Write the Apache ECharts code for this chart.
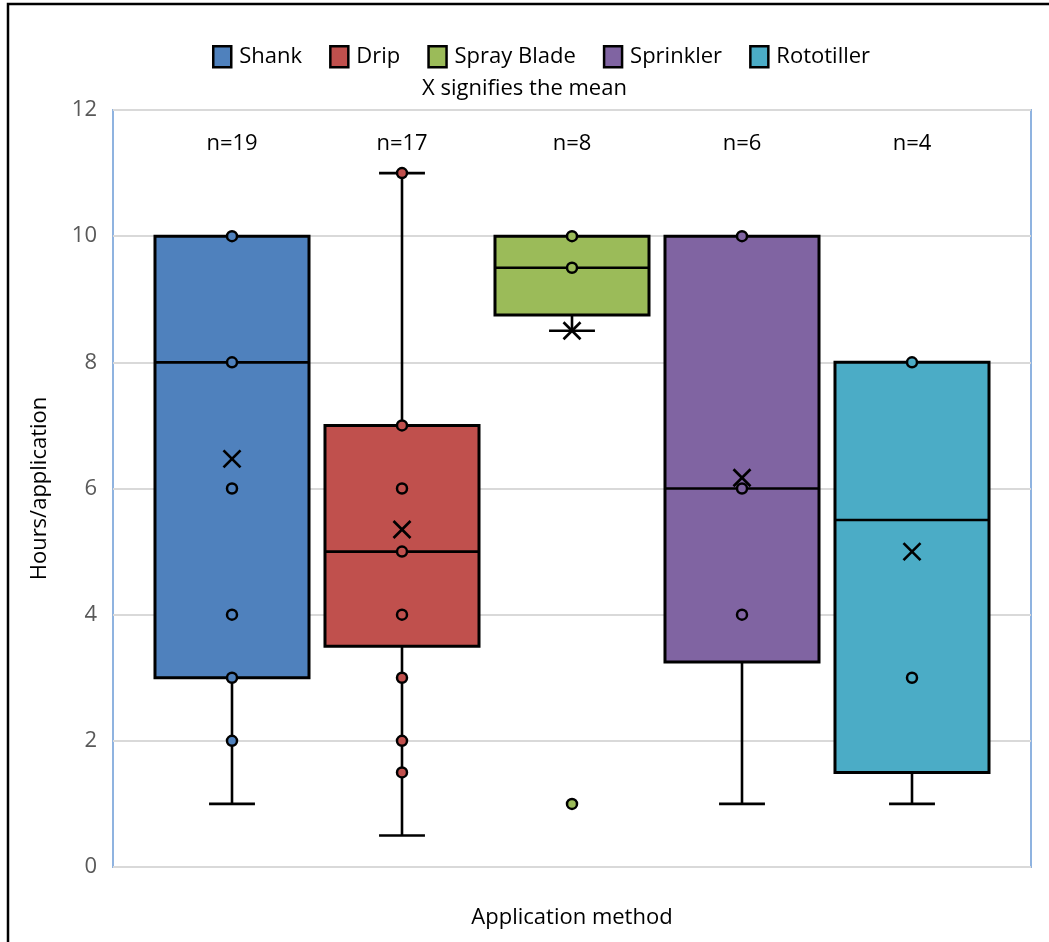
<!DOCTYPE html>
<html>
<head>
<meta charset="utf-8">
<script src="https://cdn.jsdelivr.net/npm/echarts@6/dist/echarts.min.js"></script>
<style>
  html, body { margin: 0; padding: 0; background: #fff; }
  #chart { width: 1049px; height: 942px; }
</style>
</head>
<body>
<div id="chart"></div>
<script>
// Hours per application by application method (box & whisker summary)
const categories = ['Shank', 'Drip', 'Spray Blade', 'Sprinkler', 'Rototiller'];
const counts = [19, 17, 8, 6, 4];
const whiskerLow = [1, 0.5, 8.5, 1, 1];
const quartile1 = [3, 3.5, 8.75, 3.25, 1.5];
const medians = [8, 5, 9.5, 6, 5.5];
const quartile3 = [10, 7, 10, 10, 8];
const whiskerHigh = [10, 11, 10, 10, 8];
const means = [6.47, 5.35, 8.5, 6.17, 5];
const points = [
  [10, 8, 6, 4, 3, 2],
  [11, 7, 6, 5, 4, 3, 2, 1.5],
  [10, 9.5, 1],
  [10, 6, 4],
  [8, 3]
];
const yTicks = [0, 2, 4, 6, 8, 10, 12];

const colors = ['#4f81bd', '#c0504d', '#9bbb59', '#8064a2', '#4bacc6'];
const FONT = 'Open Sans';
const FS = 22;
const BOX_W = 0.906;   // box width in category units
const CAP_W = 0.27;    // whisker cap width in category units

function renderBox(params, api) {
  const i = api.value(0);
  const lo = api.value(1), q1 = api.value(2), med = api.value(3);
  const q3 = api.value(4), hi = api.value(5), mean = api.value(6), n = api.value(7);
  const color = api.visual('color');
  const pt = v => api.coord([i, v]);
  const half = api.size([BOX_W, 0])[0] / 2;
  const capHalf = api.size([CAP_W, 0])[0] / 2;
  const cx = pt(med)[0];
  const yLo = pt(lo)[1], yQ1 = pt(q1)[1], yMed = pt(med)[1];
  const yQ3 = pt(q3)[1], yHi = pt(hi)[1], yMean = pt(mean)[1];
  const lineStyle = { stroke: '#000', lineWidth: 2.6 };
  const children = [];
  if (lo < q1) {
    children.push({ type: 'line', shape: { x1: cx, y1: yQ1, x2: cx, y2: yLo }, style: lineStyle });
    children.push({ type: 'line', shape: { x1: cx - capHalf, y1: yLo, x2: cx + capHalf, y2: yLo }, style: lineStyle });
  }
  if (hi > q3) {
    children.push({ type: 'line', shape: { x1: cx, y1: yQ3, x2: cx, y2: yHi }, style: lineStyle });
    children.push({ type: 'line', shape: { x1: cx - capHalf, y1: yHi, x2: cx + capHalf, y2: yHi }, style: lineStyle });
  }
  children.push({
    type: 'rect',
    shape: { x: cx - half, y: yQ3, width: half * 2, height: yQ1 - yQ3 },
    style: { fill: color, stroke: '#000', lineWidth: 3 }
  });
  children.push({ type: 'line', shape: { x1: cx - half, y1: yMed, x2: cx + half, y2: yMed }, style: lineStyle });
  const m = 8.5;
  children.push({ type: 'line', shape: { x1: cx - m, y1: yMean - m, x2: cx + m, y2: yMean + m }, style: lineStyle, z2: 10 });
  children.push({ type: 'line', shape: { x1: cx - m, y1: yMean + m, x2: cx + m, y2: yMean - m }, style: lineStyle, z2: 10 });
  const top = params.coordSys.y;
  children.push({
    type: 'text',
    style: { text: 'n=' + n, x: cx, y: top + 34, align: 'center', verticalAlign: 'middle',
             font: FS + 'px "' + FONT + '"', fill: '#000' }
  });
  return { type: 'group', children };
}

const series = [];
categories.forEach((name, i) => {
  series.push({
    name,
    type: 'custom',
    renderItem: renderBox,
    itemStyle: { color: colors[i] },
    encode: { x: 0, y: [1, 2, 3, 4, 5] },
    data: [[i, whiskerLow[i], quartile1[i], medians[i], quartile3[i], whiskerHigh[i], means[i], counts[i]]],
    z: 2,
    silent: true
  });
  series.push({
    name,
    type: 'scatter',
    symbol: 'circle',
    symbolSize: 10,
    itemStyle: { color: colors[i], borderColor: '#000', borderWidth: 2.5, opacity: 1 },
    data: points[i].map(v => [i, v]),
    z: 5,
    silent: true
  });
});

const chart = echarts.init(document.getElementById('chart'), null, { renderer: 'canvas' });
chart.setOption({
  backgroundColor: '#fff',
  animation: false,
  textStyle: { fontFamily: FONT },
  title: {
    text: 'X signifies the mean',
    left: 'center',
    top: 73,
    textStyle: { fontFamily: FONT, fontSize: FS, fontWeight: 'normal', color: '#000' }
  },
  legend: {
    data: categories.map(n => ({ name: n, icon: 'rect' })),
    top: 40,
    left: 207,
    itemWidth: 18,
    itemHeight: 21,
    itemGap: 27,
    itemStyle: { borderColor: '#000', borderWidth: 2.5 },
    textStyle: { fontFamily: FONT, fontSize: FS, color: '#000', padding: [0, 0, 0, 3] },
    selectedMode: false
  },
  grid: {
    left: 113, right: 1049 - 1031, top: 110, bottom: 942 - 867,
    show: true, borderColor: '#8fb3e0', borderWidth: 2, backgroundColor: 'transparent'
  },
  xAxis: {
    type: 'value',
    min: -0.7,
    max: 4.7,
    name: 'Application method',
    nameLocation: 'middle',
    nameGap: 40,
    nameTextStyle: { fontFamily: FONT, fontSize: FS, color: '#000' },
    axisLine: { show: false },
    axisTick: { show: false },
    axisLabel: { show: false },
    splitLine: { show: false }
  },
  yAxis: {
    type: 'value',
    min: yTicks[0],
    max: yTicks[yTicks.length - 1],
    interval: 2,
    name: 'Hours/application',
    nameLocation: 'middle',
    nameGap: 62,
    nameTextStyle: { fontFamily: FONT, fontSize: FS, color: '#000' },
    axisLine: { show: false },
    axisTick: { show: false },
    axisLabel: { fontFamily: FONT, fontSize: FS, color: '#595959', margin: 16 },
    splitLine: { lineStyle: { color: '#d9d9d9', width: 2 } }
  },
  graphic: [{
    type: 'rect',
    shape: { x: 8, y: 4, width: 1100, height: 1000 },
    style: { fill: 'none', stroke: '#000', lineWidth: 2.5 },
    silent: true,
    z: 100
  }],
  series
});
</script>
</body>
</html>
